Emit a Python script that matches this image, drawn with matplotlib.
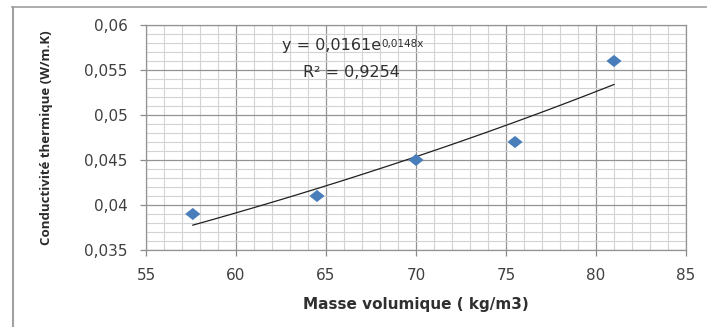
import numpy as np
import matplotlib
matplotlib.use("Agg")
import matplotlib.pyplot as plt
from matplotlib.ticker import MultipleLocator, FuncFormatter
from matplotlib.lines import Line2D
from matplotlib.path import Path

plt.rcParams['font.family'] = ['DejaVu Sans']

masse = [57.6, 64.5, 70.0, 75.5, 81.0]
conduct = [0.039, 0.041, 0.045, 0.047, 0.056]
coef_a = 0.0161
coef_b = 0.0148
r2_label = "R² = 0,9254"
eq_main = "y = 0,0161e"
eq_exp = "0,0148x"
xlabel = "Masse volumique ( kg/m3)"
ylabel = "Conductivité thermique (W/m.K)"

W, H = 707, 327
fig = plt.figure(figsize=(W / 100, H / 100), dpi=100)
ax = fig.add_axes([146 / W, 1 - 250 / H, (686 - 146) / W, (250 - 25) / H])

ax.set_xlim(55, 85)
ax.set_ylim(0.035, 0.06)
ax.xaxis.set_major_locator(MultipleLocator(5))
ax.xaxis.set_minor_locator(MultipleLocator(1))
ax.yaxis.set_major_locator(MultipleLocator(0.005))
ax.yaxis.set_minor_locator(MultipleLocator(0.001))
fmt = FuncFormatter(lambda v, p: ('%g' % round(v, 4)).replace('.', ','))
ax.yaxis.set_major_formatter(fmt)
ax.xaxis.set_major_formatter(fmt)

ax.grid(which='major', color='#939393', linewidth=0.9)
ax.grid(which='minor', color='#d3d3d3', linewidth=0.8)
ax.set_axisbelow(True)
for s in ax.spines.values():
    s.set_color('#939393')
    s.set_linewidth(0.9)

ax.tick_params(which='major', length=4.3, width=0.9, color='#8a8a8a',
               labelsize=11, labelcolor='#404040')
ax.tick_params(axis='y', pad=9)
ax.tick_params(axis='x', pad=9)
ax.tick_params(which='minor', length=0)

xs = np.linspace(min(masse), max(masse), 100)
ax.plot(xs, coef_a * np.exp(coef_b * xs), color='#202020', linewidth=0.9, zorder=3)

diamond = Path([(-0.625, 0), (0, 0.5), (0.625, 0), (0, -0.5), (-0.625, 0)],
               [Path.MOVETO, Path.LINETO, Path.LINETO, Path.LINETO, Path.CLOSEPOLY])
ax.scatter(masse, conduct, marker=diamond, s=120, color='#4a7ebb', zorder=4,
           edgecolors='none')

t_main = ax.text(0.252, 0.907, eq_main, transform=ax.transAxes, fontsize=11.5,
                 color='#303030', ha='left', va='center')
ax.annotate(eq_exp, xy=(1.0, 0.95), xycoords=t_main, fontsize=7.5,
            color='#303030', ha='left', va='top')
ax.text(0.291, 0.787, r2_label, transform=ax.transAxes, fontsize=11.5,
        color='#303030', ha='left', va='center')

ax.set_xlabel(xlabel, fontsize=11, fontweight='bold', color='#303030', labelpad=10)
ax.set_ylabel(ylabel, fontsize=9.5, fontweight='bold', color='#2a2a2a',
              family=['Open Sans', 'DejaVu Sans'])
ax.yaxis.set_label_coords((53 - 146) / 540, 0.5)

# outer frame
fig.add_artist(Line2D([12 / W, 1], [1 - 7 / H, 1 - 7 / H], color='#a0a0a0', linewidth=1.2))
fig.add_artist(Line2D([12.5 / W, 12.5 / W], [0, 1 - 7 / H], color='#a0a0a0', linewidth=1.5))

fig.savefig('out.png', dpi=100)
